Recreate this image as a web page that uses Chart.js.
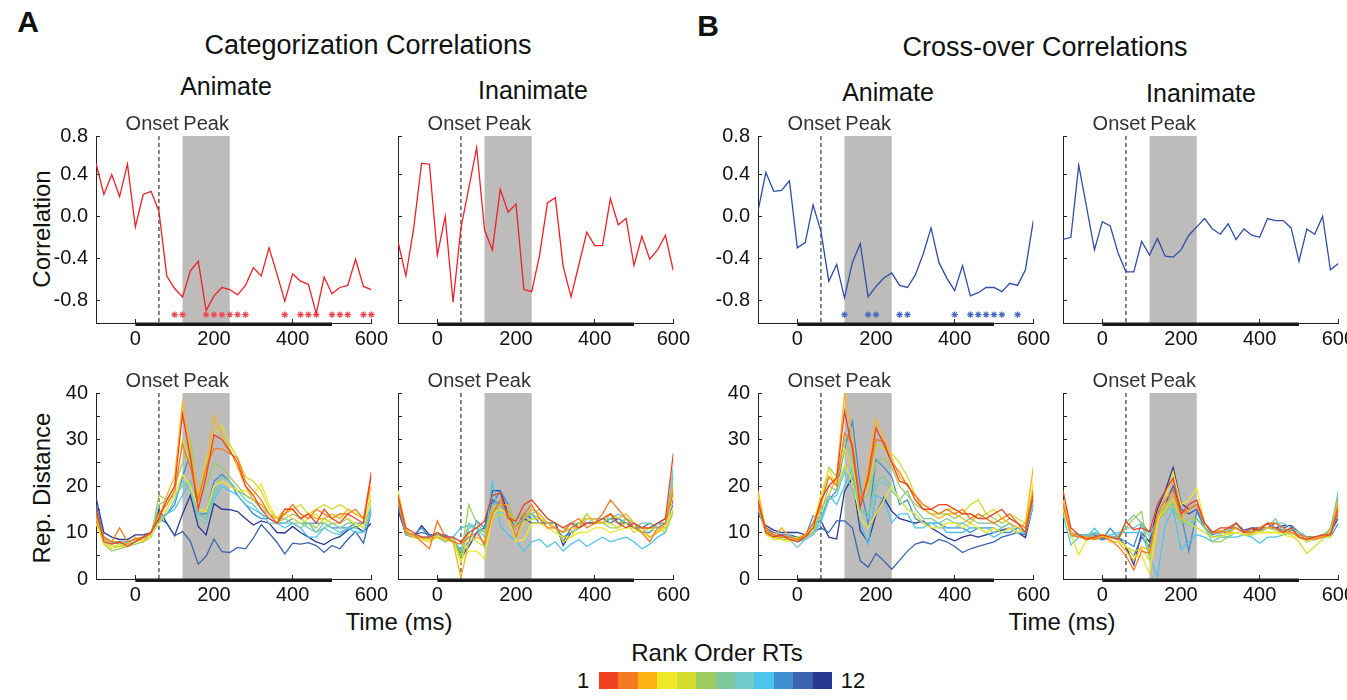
<!DOCTYPE html>
<html>
<head>
<meta charset="utf-8">
<script src="https://cdn.jsdelivr.net/npm/chart.js@4.4.1/dist/chart.umd.min.js"></script>
<style>
html, body { margin: 0; padding: 0; background: #fff; }
body { width: 1347px; height: 700px; overflow: hidden; position: relative;
       font-family: "Liberation Sans", Arial, sans-serif; color: #111; }
.t { position: absolute; transform: translate(-50%, -50%); white-space: nowrap; }
.rot { transform: translate(-50%, -50%) rotate(-90deg); }
canvas { position: absolute; }
#cbar { position: absolute; left: 599px; top: 672px; width: 233px; height: 17px; display: flex; }
#cbar div { flex: 1; }
</style>
</head>
<body>
<div class="t" style="left:28px;top:22px;font-size:30px;font-weight:bold">A</div>
<div class="t" style="left:708px;top:26px;font-size:30px;font-weight:bold">B</div>
<div class="t" style="left:368px;top:45px;font-size:27px">Categorization Correlations</div>
<div class="t" style="left:1045px;top:47px;font-size:27px">Cross-over Correlations</div>
<div class="t" style="left:226px;top:86px;font-size:25px">Animate</div>
<div class="t" style="left:533px;top:90px;font-size:25px">Inanimate</div>
<div class="t" style="left:888px;top:92px;font-size:25px">Animate</div>
<div class="t" style="left:1201px;top:93px;font-size:25px">Inanimate</div>
<div class="t rot" style="left:42px;top:229px;font-size:24px">Correlation</div>
<div class="t rot" style="left:42px;top:488px;font-size:24px">Rep. Distance</div>
<div class="t" style="left:399px;top:622px;font-size:24px">Time (ms)</div>
<div class="t" style="left:1062px;top:622px;font-size:24px">Time (ms)</div>
<div class="t" style="left:717px;top:653px;font-size:24px">Rank Order RTs</div>
<div class="t" style="left:583px;top:681px;font-size:22px">1</div>
<div class="t" style="left:853px;top:681px;font-size:22px">12</div>
<div id="cbar"></div>

<script>
// time axis (ms), one sample every 20 ms
const TIMES = [-100, -80, -60, -40, -20, 0, 20, 40, 60, 80, 100, 120, 140, 160, 180, 200, 220, 240,
               260, 280, 300, 320, 340, 360, 380, 400, 420, 440, 460, 480, 500, 520, 540, 560, 580, 600];
const X_TICKS = [0, 200, 400, 600];
const ONSET_MS = 60;
const PEAK_WINDOW = [120, 240];
const SIG_WINDOW = [0, 500];

// rank order colour map, 1 (fast) .. 12 (slow)
const RANK_COLORS = ['#F04123', '#F57A22', '#FBB316', '#EFE82A', '#D2DD2C', '#9DCC5E',
                     '#7EC89C', '#70C9CB', '#4DC4EB', '#3D8FCF', '#3A64AE', '#283891'];

// correlation panels
const CORR_TICKS = [-0.8, -0.4, 0, 0.4, 0.77];
const CORR_CAT_ANIMATE = [0.51, 0.21, 0.40, 0.19, 0.50, -0.10, 0.21, 0.24, 0.05, -0.57, -0.69, -0.77,
  -0.52, -0.43, -0.90, -0.76, -0.68, -0.70, -0.75, -0.66, -0.49, -0.57, -0.30, -0.55, -0.81, -0.55,
  -0.62, -0.65, -0.93, -0.58, -0.74, -0.68, -0.66, -0.41, -0.67, -0.70];
const CORR_CAT_INANIMATE = [-0.24, -0.57, -0.11, 0.51, 0.50, -0.37, 0.00, -0.82, -0.11, 0.27, 0.66, -0.13,
  -0.32, 0.26, 0.04, 0.12, -0.70, -0.72, -0.37, 0.13, 0.18, -0.48, -0.77, -0.46, -0.15, -0.28, -0.28,
  0.17, -0.08, -0.02, -0.47, -0.19, -0.41, -0.32, -0.18, -0.52];
const CORR_CROSS_ANIMATE = [0.05, 0.42, 0.24, 0.25, 0.34, -0.30, -0.25, 0.11, -0.14, -0.62, -0.46, -0.78,
  -0.44, -0.26, -0.77, -0.67, -0.59, -0.54, -0.66, -0.68, -0.56, -0.36, -0.11, -0.44, -0.59, -0.71,
  -0.47, -0.76, -0.73, -0.68, -0.68, -0.72, -0.64, -0.66, -0.51, -0.04];
const CORR_CROSS_INANIMATE = [-0.22, -0.20, 0.49, 0.09, -0.32, -0.05, -0.09, -0.35, -0.53, -0.53, -0.24,
  -0.37, -0.21, -0.38, -0.39, -0.32, -0.18, -0.10, -0.02, -0.12, -0.17, -0.07, -0.22, -0.12, -0.18,
  -0.20, -0.02, -0.04, -0.04, -0.11, -0.43, -0.12, -0.17, 0.00, -0.51, -0.45];

// significant time points (asterisks)
const STARS_CAT_ANIMATE = [100, 120, 180, 200, 220, 240, 260, 280, 380, 420, 440, 460, 500, 520, 540, 580, 600];
const STARS_CROSS_ANIMATE = [120, 180, 200, 260, 280, 400, 440, 460, 480, 500, 520, 560];
const STAR_LEVEL = -0.94;

// representational distance, one row per RT rank (1..12)
const DIST_CAT_ANIMATE = [
  [15, 8, 7.5, 8, 7, 8, 9, 10, 13, 17, 20, 35.5, 26, 15, 22, 31, 30, 27.5, 25, 20, 18, 15, 13, 12, 15, 15, 13, 14, 12, 15, 13, 12, 14, 13, 12, 23],
  [14, 9, 8, 11, 8, 8.5, 9, 10, 14, 16, 19, 29, 24, 17, 24, 28, 28, 27, 26, 21, 19, 17, 14, 12, 14, 16, 14, 13, 15, 14, 13, 14, 14, 15, 13, 22],
  [13, 8.5, 8, 8, 7.5, 9, 8, 10, 13, 18, 22, 38, 28, 18, 23, 35, 31, 28, 24, 20, 17, 16, 14, 13, 14, 15, 13, 14, 13, 13, 14, 13, 15, 14, 13, 20],
  [12, 7.5, 7, 7.5, 7, 8, 8.5, 9, 14, 15, 18, 22.5, 20, 15, 14.5, 20, 21, 20, 19, 19, 18, 20.5, 16, 13, 14, 13, 12, 13, 14, 12, 13, 14, 13, 12, 11, 18],
  [14, 8, 6.5, 7, 7, 8, 9, 10, 12, 15, 18, 30, 25, 17, 26, 31, 33, 29, 26, 22, 21, 19, 15, 13, 15, 15, 16, 14, 15, 16, 15, 16, 15, 14, 13, 17],
  [13, 7.5, 6, 6.5, 7, 7.5, 8, 9, 18, 17, 20, 25, 30, 17, 20, 25, 24, 22, 20, 18, 17, 16, 14, 12, 13, 14, 13, 12, 11, 13, 12, 12, 13, 11, 12, 18],
  [13, 8, 7, 7, 7.5, 8, 8.5, 9, 16, 17, 18, 20, 21, 14, 13, 19, 22, 21, 19, 18, 17, 15, 14, 13, 13, 12, 11, 12, 10, 11, 12, 11, 12, 12, 11, 16],
  [14, 8.5, 7.5, 8, 8, 8.5, 9, 9.5, 12, 14, 17, 21, 19, 13, 12, 18, 21, 20, 19, 17, 16, 14, 12, 12, 12, 12, 12, 11, 10, 12, 11, 10, 11, 11, 10, 15],
  [15, 9, 8, 8, 8, 8.5, 8.5, 10, 12, 14, 15, 18, 21, 14, 13, 17, 20, 19, 18, 16, 15, 14, 13, 12, 11, 12, 11, 9, 9, 11, 10, 9.5, 11, 10, 10, 14],
  [15, 8.5, 8, 7.5, 8, 8.5, 9, 10, 13, 14, 16, 22, 27, 14, 14, 21, 22.5, 21, 18, 16, 14, 13, 13, 12, 12, 13, 12, 12, 12, 12, 11, 11, 11, 12, 12, 15],
  [16, 9, 8, 8, 7.5, 8, 9, 10, 13, 12, 9.3, 10.2, 8.1, 3.2, 4.9, 8.6, 5.9, 5.7, 6.8, 6.5, 8.8, 11.7, 9.9, 7.9, 5.4, 7.7, 7.5, 7.8, 7.2, 5.7, 7.2, 6.5, 8.5, 10.2, 7.7, 14.5],
  [17.5, 10, 9, 8.5, 8.5, 9.5, 9.5, 10, 15, 12, 9.3, 14, 18, 11.3, 9.5, 16.2, 15, 14.9, 14.5, 13, 11.6, 12.5, 12, 10, 9.9, 11.3, 10, 9, 8, 7.4, 8.5, 9.1, 10.5, 11.3, 10.2, 12]
];
const DIST_CAT_INANIMATE = [
  [18, 11, 10, 9, 9, 10, 9, 9, 8, 10, 11, 12.5, 18, 18.5, 13, 12.5, 16, 17, 15, 13, 12, 11, 12, 11, 12, 12, 13, 14, 12, 11, 12, 11, 11, 12, 13, 27],
  [17, 10, 9.5, 8, 6.5, 12.5, 9, 8, 7.5, 9, 10, 7.5, 14, 17, 14, 9, 14, 16, 13, 11, 11, 10, 12, 13, 11, 12, 14, 17, 15, 13, 11, 10, 8, 11, 12, 19],
  [17, 10, 9, 9, 8.5, 9, 8.5, 8, 0.2, 8, 9, 8, 15, 16, 16, 11, 13, 15, 14, 12, 11, 10, 11, 11, 13, 13, 12, 14, 13, 14, 12, 11, 9, 10, 12, 20],
  [19, 11, 9, 8.5, 8, 9, 8.5, 8, 4, 6, 6, 4.3, 14, 15, 14, 8, 8.5, 12, 12, 11, 10, 9, 9, 10, 10, 11, 11, 10, 10.5, 11, 11, 10, 9, 10, 11, 18],
  [18, 10, 9, 8.5, 8, 9.5, 8.5, 8.5, 3.5, 10, 8, 7, 13, 14, 13, 8.5, 12, 13, 13, 12, 11, 8, 9, 12, 14, 12, 12, 12, 11, 12, 10, 11, 11, 10, 11, 15],
  [17, 10, 9, 8.5, 8, 9, 8, 8.5, 5, 16, 12, 10, 15, 15, 14, 13, 14, 14, 13, 12, 12, 11, 10, 11, 14, 12, 12, 11, 11, 13, 12, 10, 11, 11, 10, 14.5],
  [18, 10, 9.5, 8.5, 9, 9, 8.5, 8.5, 5, 11, 11, 9, 16, 16, 14, 12, 13, 15, 14, 12, 11, 10, 12, 12, 13, 13, 12, 13, 12, 13, 11, 12, 12, 11, 11, 22],
  [17, 9.5, 9, 9, 8.5, 9, 8, 9, 6, 12, 11, 10, 15, 14, 15, 11, 13, 14, 15, 13, 12, 11, 12, 11, 12, 13, 13, 13, 14, 13, 12, 11, 11, 12, 11, 24],
  [19, 10.5, 9.5, 9, 9, 10, 9, 9, 11, 11.5, 11, 7, 21, 11.5, 9.5, 8.3, 6, 8, 8.5, 6.9, 8, 6, 7.5, 8.5, 7, 8, 9, 8, 8.5, 9, 8, 6.5, 7.5, 9, 10, 22],
  [16, 10, 9.5, 11, 9, 9.5, 9.5, 8.5, 6, 8, 12.5, 11, 16, 19, 16, 11, 13, 14, 12, 12, 11, 9, 10, 11, 12, 12, 12, 13, 13, 12, 12, 10, 10, 12, 12, 16],
  [15, 10, 9.5, 10, 9.5, 9.5, 9, 8.5, 4.5, 7, 10, 11, 17, 16, 14, 11, 14, 13, 13, 12, 12, 8, 11, 12, 12, 12, 13, 12, 13, 12, 11, 11, 12, 11, 12, 18],
  [15, 9.5, 9, 11.5, 9.5, 9.5, 9.5, 8.5, 5.5, 6.9, 10, 11, 19, 19, 14, 11, 13, 12, 12, 12, 12, 7.2, 10, 11, 12, 12, 12, 13, 12, 12, 11, 11, 11, 12, 13, 17]
];
const DIST_CROSS_ANIMATE = [
  [17, 10, 9, 9.5, 8.5, 8, 9, 11, 17, 20, 21.8, 36, 28, 15.4, 22, 32.5, 29, 25, 21, 20.4, 17, 15, 15, 16, 16, 15, 14, 14, 13, 13, 14, 15, 13, 12, 10, 18],
  [16, 11, 9.5, 9, 9, 8.5, 9.5, 12, 16, 22, 20, 31.4, 29, 17, 21, 30, 29.6, 25, 23, 20, 18, 16, 15, 14, 15, 14, 15, 13, 14, 13, 12, 13, 14, 12, 11, 19],
  [19, 10.5, 9, 11, 9, 8.5, 9, 11, 15, 18, 22, 39.8, 30, 16, 24, 34.3, 30, 26, 22, 20, 18, 15, 14, 13, 14, 14, 13, 12, 14, 13, 12, 13, 12, 11, 12, 24],
  [18, 9.5, 8.5, 8.5, 8, 8.5, 9, 12, 18, 23.6, 20, 24.6, 21, 13, 11, 14, 17, 20, 17, 15, 14, 12, 11, 11, 12, 12, 11, 12, 11, 10, 11, 10, 11, 10, 11, 21],
  [17, 10, 9, 9, 8.5, 9, 9.5, 11, 17, 22, 21, 28, 24, 17, 20, 29, 28, 27, 25, 22, 18, 16, 15, 14, 15, 15, 14, 16, 17, 14, 15, 13, 14, 13, 12, 20],
  [16, 10, 9, 8.5, 8.5, 8.5, 9, 10, 16, 24, 22, 30, 26, 17, 18, 25, 26, 24, 20, 18, 16, 15, 14, 14, 14, 13, 14, 14, 13, 14, 13, 12, 13, 12, 11, 19],
  [15, 10, 9.5, 9, 9, 8.5, 9, 10, 14, 20, 19, 24, 22, 15, 14, 21, 22, 20, 17, 19, 15, 13, 13, 12, 13, 12, 12, 13, 12, 12, 12, 11, 12, 11, 10, 17],
  [16, 9.5, 9, 8.5, 8.5, 6.8, 8.5, 9.5, 12, 17, 18, 23, 19, 15, 13, 20, 21, 19, 17, 15, 14, 12, 12, 11, 11, 11, 12, 11, 11, 11, 10, 11, 12, 10, 10, 16],
  [17, 10, 9, 9, 9.5, 8, 8.5, 9.5, 13, 18, 16, 20, 24, 12, 7.5, 18, 17, 12.1, 14, 14, 11, 11, 12, 12, 10, 10, 10, 11, 11, 10, 9, 10, 11, 10, 10, 16],
  [17, 10.5, 9.5, 9, 9, 8, 9, 13.6, 13, 17, 19, 28, 33.9, 20, 12, 25.7, 24, 22, 16, 17, 13, 12, 12, 12, 11, 11, 11, 10, 11, 11, 11, 10, 10, 11, 10, 18],
  [15, 11, 10, 9.5, 9.5, 9, 9, 10, 11, 10, 12.5, 12.5, 11, 3.9, 2.5, 5.5, 3.9, 2.1, 4, 6, 7.5, 8, 7.5, 8.5, 8, 7, 5.7, 6.5, 7, 7.5, 8, 9, 9.5, 10, 9.5, 17],
  [14, 11.5, 10.5, 10, 10, 10, 9.5, 12, 12.5, 9, 8.6, 18.9, 21.8, 10.4, 7.9, 13.9, 17.5, 14.6, 13, 12.5, 12, 12.5, 11, 10, 8.9, 8.2, 9, 9.5, 9, 9.5, 10, 10.5, 11, 10, 8.9, 16]
];
const DIST_CROSS_INANIMATE = [
  [19, 11, 9.5, 8.5, 9, 9.5, 9, 8.5, 12.4, 10.6, 11, 10.2, 16, 19, 21.7, 14, 16, 17, 12, 10, 11, 11, 12, 10, 11, 10.5, 12, 11, 10, 11, 9, 8.5, 9, 9.5, 9.5, 15],
  [16, 9.5, 9, 9, 8.5, 9, 8.5, 7, 5, 1.9, 6, 5.5, 14, 17, 19, 14, 15, 16, 12, 10, 10, 11, 11, 10, 10, 11, 12, 12, 11, 10, 9.5, 9, 8.5, 9, 9.5, 16],
  [17, 10, 9, 8.5, 9, 9.5, 8, 8, 6, 4, 7, 6, 13, 16, 18, 13, 15, 16, 12, 10, 10.5, 10, 11, 10, 10, 11, 11, 11, 10, 10, 9, 8.5, 9, 9, 10, 17],
  [15, 9.5, 5.2, 8.5, 8.5, 9, 9, 8.5, 7, 5, 5, 1.2, 12, 17, 23, 16, 17, 19.6, 12, 10, 10, 9.5, 10, 9.5, 10, 10, 10, 10, 9.5, 9, 9, 8, 8.5, 9, 9, 16],
  [15, 10, 9, 9, 8.5, 9.5, 9, 8.5, 7, 6, 6.5, 4, 13, 15, 17, 13, 12, 11, 10, 9, 9, 10, 10, 9.5, 9.5, 10, 10, 10, 10, 9.5, 8, 5.5, 7, 8.5, 9.5, 15],
  [16, 10, 9, 9, 9, 9, 9, 8.5, 11, 13, 14.5, 4.5, 13, 14, 17, 12, 13, 13, 11, 8, 8, 9, 12, 10, 10.5, 10, 11, 10.5, 10, 10, 9.5, 9, 9, 9.5, 10.5, 14],
  [17, 9.5, 9, 9, 10, 9.5, 9, 9, 12, 13.8, 12, 6, 14, 16, 16, 13, 12, 13, 11, 9, 9.5, 9, 10, 9.5, 9.5, 10.5, 11, 13, 10, 11, 10, 8, 9, 9, 11, 18],
  [16, 9, 9.5, 9.5, 10, 9, 9.5, 9.5, 11, 11, 12, 9, 13, 15, 15, 12.5, 11.5, 13, 11, 10, 10, 10.5, 11, 10, 10, 11, 12, 12, 12, 11, 10, 9, 8.5, 9, 10, 19],
  [14, 7.3, 9, 9, 10.9, 9, 9.5, 10, 10, 10, 10, 5, 0.5, 11.7, 15, 6.3, 8, 9.5, 9, 8, 9, 9, 9, 9.5, 9, 7.7, 9, 9, 9.5, 10, 9, 8, 8.5, 9, 10, 17],
  [16, 9.5, 9, 9, 10, 8.5, 10.9, 9, 8, 7, 12, 10, 12, 16, 18, 14, 5.9, 14.5, 11, 9.5, 10, 10, 11, 10, 10, 10.5, 11, 11, 10.5, 10.5, 10, 9, 9, 9, 9, 12],
  [15, 10, 9.5, 9.5, 9.5, 8.5, 9, 8.5, 7, 5, 9, 7, 13, 16, 20, 15, 14, 15, 11, 10, 10, 10, 12, 10.5, 11, 11, 11, 12, 11, 11.5, 10, 9, 9, 9.5, 10, 13],
  [17, 9.5, 9, 9, 9, 8.5, 9, 9, 7, 3, 10, 8, 15, 19, 24, 16.3, 15, 16, 12, 10, 10, 11, 11, 10, 10.5, 11, 11, 11, 11.5, 11.5, 10, 9, 9, 9.5, 9.5, 14]
];

const FONT = '"Liberation Sans", Arial, sans-serif';
const RED = '#EC2027';
const BLUE = '#2E4DA7';
Chart.defaults.font.family = FONT;

// colour bar legend
RANK_COLORS.forEach(c => {
    const d = document.createElement('div');
    d.style.background = c;
    document.getElementById('cbar').appendChild(d);
});

// shaded peak window, onset line, labels and the 0-500 ms bar
const markersPlugin = {
    id: 'markers',
    beforeDatasetsDraw(chart) {
        const { ctx, chartArea: a, scales: { x } } = chart;
        const p0 = x.getPixelForValue(PEAK_WINDOW[0]);
        const p1 = x.getPixelForValue(PEAK_WINDOW[1]);
        const o = x.getPixelForValue(ONSET_MS);
        ctx.save();
        ctx.fillStyle = '#bebbbb';
        ctx.fillRect(p0, a.top, p1 - p0, a.bottom - a.top);
        ctx.strokeStyle = '#333';
        ctx.lineWidth = 1.2;
        ctx.setLineDash([4, 3]);
        ctx.beginPath();
        ctx.moveTo(o, a.top);
        ctx.lineTo(o, a.bottom);
        ctx.stroke();
        ctx.setLineDash([]);
        ctx.fillStyle = '#333';
        ctx.font = '20px ' + FONT;
        ctx.textBaseline = 'middle';
        ctx.textAlign = 'right';
        ctx.fillText('Onset', o + 20, a.top - 12);
        ctx.textAlign = 'center';
        ctx.fillText('Peak', (p0 + p1) / 2, a.top - 12);
        ctx.restore();
    },
    afterDraw(chart) {
        const { ctx, chartArea: a, scales: { x } } = chart;
        const s0 = x.getPixelForValue(SIG_WINDOW[0]);
        const s1 = x.getPixelForValue(SIG_WINDOW[1]);
        ctx.save();
        ctx.fillStyle = '#1a1a1a';
        ctx.fillRect(s0, a.bottom - 0.5, s1 - s0, 3.5);
        ctx.restore();
    }
};

function lineSet(values, color) {
    return {
        data: TIMES.map((t, i) => ({ x: t, y: values[i] })),
        borderColor: color,
        borderWidth: 1.3,
        pointRadius: 0,
        tension: 0,
        fill: false
    };
}

function starSet(times, color) {
    return {
        data: times.map(t => ({ x: t, y: STAR_LEVEL })),
        showLine: false,
        pointStyle: 'star',
        pointRadius: 3.2,
        borderColor: color,
        borderWidth: 1.2,
        clip: false
    };
}

function axisStyle() {
    return {
        grid: { drawOnChartArea: false, drawTicks: true, tickLength: -4, color: '#222', lineWidth: 1 },
        border: { color: '#222', width: 1 }
    };
}

function makePanel(p) {
    const padTop = 30, axisW = 60, axisH = 32, padRight = 20;
    const canvas = document.createElement('canvas');
    canvas.width = axisW + 280 + padRight;
    canvas.height = padTop + p.height + axisH;
    canvas.style.left = (p.left - axisW) + 'px';
    canvas.style.top = (p.top - padTop) + 'px';
    document.body.appendChild(canvas);

    const corr = p.kind === 'corr';
    const yScale = corr ? {
        min: -1.02, max: 0.77,
        afterBuildTicks: s => { s.ticks = CORR_TICKS.map(v => ({ value: v })); },
        ticks: { callback: v => p.yLabels ? v.toFixed(1) : '' }
    } : {
        min: 0, max: 40,
        ticks: { stepSize: 5, callback: v => (p.yLabels && v % 10 === 0) ? v : '' }
    };

    new Chart(canvas, {
        type: 'line',
        data: { datasets: p.datasets },
        options: {
            responsive: false,
            animation: false,
            events: [],
            layout: { padding: { top: padTop, right: padRight, left: 0, bottom: 0 } },
            plugins: { legend: { display: false }, tooltip: { enabled: false } },
            scales: {
                x: Object.assign(axisStyle(), {
                    type: 'linear', min: -100, max: 600,
                    afterBuildTicks: s => { s.ticks = X_TICKS.map(v => ({ value: v })); },
                    afterFit: s => { s.height = axisH; },
                    ticks: { font: { size: 20 }, color: '#111', padding: 8, maxRotation: 0, autoSkip: false }
                }),
                y: Object.assign(axisStyle(), {
                    type: 'linear', min: yScale.min, max: yScale.max,
                    afterBuildTicks: yScale.afterBuildTicks,
                    afterFit: s => { s.width = axisW; },
                    ticks: Object.assign({ font: { size: 20 }, color: '#111', padding: 12, autoSkip: false }, yScale.ticks)
                })
            }
        },
        plugins: [markersPlugin]
    });
}

const distSets = rows => rows.map((r, i) => lineSet(r, RANK_COLORS[i]));
const COL_LEFT = [96, 398, 758, 1063];

const PANELS = [
    { kind: 'corr', left: COL_LEFT[0], top: 136, height: 187, yLabels: true,
      datasets: [lineSet(CORR_CAT_ANIMATE, RED), starSet(STARS_CAT_ANIMATE, '#EE4A55')] },
    { kind: 'corr', left: COL_LEFT[1], top: 136, height: 187, yLabels: false,
      datasets: [lineSet(CORR_CAT_INANIMATE, RED)] },
    { kind: 'corr', left: COL_LEFT[2], top: 136, height: 187, yLabels: true,
      datasets: [lineSet(CORR_CROSS_ANIMATE, BLUE), starSet(STARS_CROSS_ANIMATE, '#4A6BC4')] },
    { kind: 'corr', left: COL_LEFT[3], top: 136, height: 187, yLabels: false,
      datasets: [lineSet(CORR_CROSS_INANIMATE, BLUE)] },
    { kind: 'dist', left: COL_LEFT[0], top: 393, height: 186, yLabels: true, datasets: distSets(DIST_CAT_ANIMATE) },
    { kind: 'dist', left: COL_LEFT[1], top: 393, height: 186, yLabels: false, datasets: distSets(DIST_CAT_INANIMATE) },
    { kind: 'dist', left: COL_LEFT[2], top: 393, height: 186, yLabels: true, datasets: distSets(DIST_CROSS_ANIMATE) },
    { kind: 'dist', left: COL_LEFT[3], top: 393, height: 186, yLabels: false, datasets: distSets(DIST_CROSS_INANIMATE) }
];

PANELS.forEach(makePanel);
</script>
</body>
</html>
